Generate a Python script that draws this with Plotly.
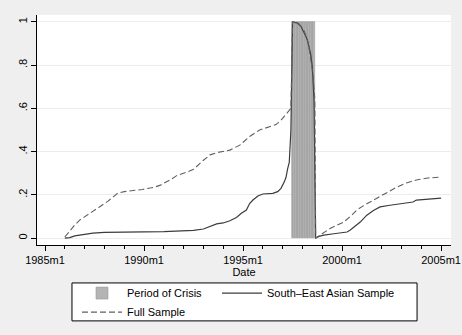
import plotly.graph_objects as go

# x values are months since 1985m1
crisis_months = list(range(150, 164))
crisis_height = [1.0] * len(crisis_months)

sea_months = [12, 15, 18, 21, 24, 29, 36, 44, 60, 72, 84, 90, 96, 100, 104, 108, 112, 116, 119, 122,
              124, 126, 129, 132, 138, 141, 143, 145, 146, 147, 148, 149, 150, 153, 155, 157, 159, 161,
              162, 163, 164, 166, 169, 175, 183, 185, 188, 191, 193, 195, 199, 203, 209, 215, 220, 223,
              225, 232, 240]
sea_values = [0.0, 0.002, 0.01, 0.014, 0.018, 0.023, 0.026, 0.028, 0.029, 0.03, 0.033, 0.036, 0.042,
              0.055, 0.066, 0.07, 0.08, 0.095, 0.115, 0.13, 0.16, 0.176, 0.195, 0.204, 0.207, 0.215,
              0.23, 0.26, 0.28, 0.32, 0.35, 0.5, 1.0, 0.995, 0.98, 0.95, 0.917, 0.85, 0.79, 0.64, 0.0,
              0.008, 0.014, 0.02, 0.028, 0.037, 0.055, 0.074, 0.09, 0.106, 0.128, 0.144, 0.152, 0.157,
              0.162, 0.167, 0.176, 0.18, 0.185]

full_months = [12, 15, 18, 21, 26, 33, 38, 44, 48, 59, 66, 70, 76, 80, 86, 90, 96, 100, 104, 112, 118,
               124, 130, 136, 140, 143, 146, 149, 150, 154, 157, 159.5, 161, 162.5, 163.5, 164, 165,
               169, 173, 177, 181, 185, 189, 193, 197, 202, 207, 213, 219, 225, 232, 240]
full_values = [0.005, 0.035, 0.06, 0.083, 0.11, 0.144, 0.17, 0.207, 0.215, 0.225, 0.235, 0.245, 0.27,
               0.29, 0.305, 0.318, 0.36, 0.385, 0.395, 0.407, 0.43, 0.47, 0.5, 0.515, 0.525, 0.545,
               0.57, 0.6, 1.0, 0.99, 0.96, 0.9, 0.83, 0.745, 0.64, 0.0, 0.005, 0.025, 0.046, 0.06,
               0.074, 0.1, 0.13, 0.15, 0.167, 0.19, 0.213, 0.235, 0.255, 0.269, 0.278, 0.282]

x_tick_vals = [0, 60, 120, 180, 240]
x_tick_text = ["1985m1", "1990m1", "1995m1", "2000m1", "2005m1"]
y_tick_vals = [0, 0.2, 0.4, 0.6, 0.8, 1.0]
y_tick_text = ["0", ".2", ".4", ".6", ".8", "1"]

fig = go.Figure()
fig.add_trace(go.Bar(x=crisis_months, y=crisis_height, width=1, name="Period of Crisis",
                     legend="legend", legendrank=1,
                     marker=dict(color="#b4b4b4", line=dict(color="#9a9a9a", width=0.6))))
fig.add_trace(go.Scatter(x=sea_months, y=sea_values, mode="lines", name="South\u2013East Asian Sample",
                         legend="legend2",
                         line=dict(color="#3c3c3c", width=1.2)))
fig.add_trace(go.Scatter(x=full_months, y=full_values, mode="lines", name="Full Sample",
                         legend="legend", legendrank=2,
                         line=dict(color="#606060", width=1.1, dash="6px,3px")))

lfont = dict(family="Liberation Sans, Arial, sans-serif", size=11, color="#000")
fig.update_layout(
    width=462, height=335,
    margin=dict(l=37, r=11, t=15, b=90, autoexpand=False),
    paper_bgcolor="#efefef", plot_bgcolor="white",
    font=lfont, bargap=0,
    shapes=[dict(type="rect", xref="paper", yref="paper", x0=0.0845, x1=0.918, y0=-0.330, y1=-0.165,
                 fillcolor="white", line=dict(color="black", width=1), layer="above")],
    legend=dict(orientation="v", x=0.0966, xanchor="left", y=-0.146, yanchor="top",
                bgcolor="rgba(0,0,0,0)", borderwidth=0, traceorder="normal",
                font=lfont, tracegroupgap=0, itemwidth=40),
    legend2=dict(orientation="v", x=0.4348, xanchor="left", y=-0.146, yanchor="top",
                 bgcolor="rgba(0,0,0,0)", borderwidth=0,
                 font=lfont, itemwidth=40),
)
fig.update_xaxes(range=[-4.85, 246], tickvals=x_tick_vals, ticktext=x_tick_text,
                 ticks="outside", ticklen=5, tickcolor="black", showgrid=False, zeroline=False,
                 showline=True, linecolor="black", linewidth=1.2,
                 minor=dict(dtick=12, tick0=0, ticks="outside", ticklen=3, tickcolor="black", showgrid=False),
                 title=dict(text="Date", font=dict(size=11), standoff=0))
fig.update_yaxes(range=[-0.032, 1.032], tickvals=y_tick_vals, ticktext=y_tick_text, tickangle=-90,
                 ticks="outside", ticklen=5, tickcolor="black", showgrid=True, gridcolor="#ececec",
                 gridwidth=1, zeroline=False, showline=True, linecolor="black", linewidth=1.2)

fig.write_html("out.html")
